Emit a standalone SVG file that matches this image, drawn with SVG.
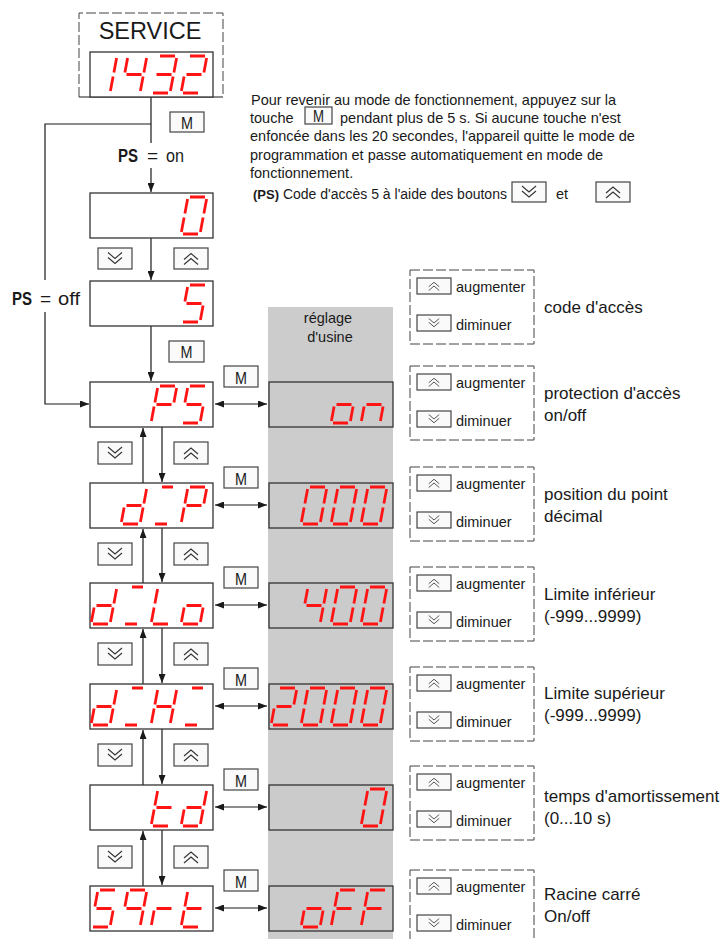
<svg xmlns="http://www.w3.org/2000/svg" xmlns:xlink="http://www.w3.org/1999/xlink" width="724" height="939" viewBox="0 0 724 939">
<style>
.t{font-family:"Liberation Sans",Arial,sans-serif;fill:#1a1a1a}
.tb{font-size:14.5px}
.lbl{font-size:17px}
.sm{font-size:14.5px}
.ps{font-family:"Liberation Sans",Arial,sans-serif;font-size:19px;fill:#1a1a1a}
.bold{font-weight:bold}
.disp{fill:#fff;stroke:#333;stroke-width:1.3}
.fdisp{fill:#cbcbcb;stroke:#333;stroke-width:1.3}
.btn{fill:#fafafa;stroke:#444;stroke-width:1.2}
.ico{fill:none;stroke:#333;stroke-width:1.1}
.seg{fill:none;stroke:#ff1414;stroke-width:2.8}
.ln{fill:none;stroke:#1a1a1a;stroke-width:1.2}
.arr{fill:none;stroke:#1a1a1a;stroke-width:1.2;marker-end:url(#ah)}
.dbl{fill:none;stroke:#1a1a1a;stroke-width:1.2;marker-end:url(#ah);marker-start:url(#ah)}
.dash{fill:none;stroke:#444;stroke-width:1;stroke-dasharray:10 3}
.m{font-family:"Liberation Sans",Arial,sans-serif;font-size:17px;fill:#1a1a1a;text-anchor:middle}
</style>
<defs>
<marker id="ah" markerUnits="userSpaceOnUse" markerWidth="9" markerHeight="7" refX="9" refY="3.5" orient="auto-start-reverse"><path d="M0 0L9 3.5L0 7z" fill="#1a1a1a"/></marker>
<path id="c0" class="seg" d="M9 0H24M25.6 2L22.9 16.5M22.1 20.5L19.4 35M2 37H17M3.1 20.5L0.4 35M6.6 2L3.9 16.5"/>
<path id="c1" class="seg" d="M25.6 2L22.9 16.5M22.1 20.5L19.4 35"/>
<path id="c2" class="seg" d="M9 0H24M25.6 2L22.9 16.5M5.5 18.5H20.5M3.1 20.5L0.4 35M2 37H17"/>
<path id="c3" class="seg" d="M9 0H24M25.6 2L22.9 16.5M5.5 18.5H20.5M22.1 20.5L19.4 35M2 37H17"/>
<path id="c4" class="seg" d="M6.6 2L3.9 16.5M5.5 18.5H20.5M25.6 2L22.9 16.5M22.1 20.5L19.4 35"/>
<path id="c5" class="seg" d="M9 0H24M6.6 2L3.9 16.5M5.5 18.5H20.5M22.1 20.5L19.4 35M2 37H17"/>
<path id="cP" class="seg" d="M9 0H24M25.6 2L22.9 16.5M3.1 20.5L0.4 35M6.6 2L3.9 16.5M5.5 18.5H20.5"/>
<path id="cd" class="seg" d="M25.6 2L22.9 16.5M22.1 20.5L19.4 35M2 37H17M3.1 20.5L0.4 35M5.5 18.5H20.5"/>
<path id="cL" class="seg" d="M2 37H17M3.1 20.5L0.4 35M6.6 2L3.9 16.5"/>
<path id="co" class="seg" d="M22.1 20.5L19.4 35M2 37H17M3.1 20.5L0.4 35M5.5 18.5H20.5"/>
<path id="cn" class="seg" d="M22.1 20.5L19.4 35M3.1 20.5L0.4 35M5.5 18.5H20.5"/>
<path id="cH" class="seg" d="M25.6 2L22.9 16.5M22.1 20.5L19.4 35M3.1 20.5L0.4 35M6.6 2L3.9 16.5M5.5 18.5H20.5"/>
<path id="cF" class="seg" d="M9 0H24M3.1 20.5L0.4 35M6.6 2L3.9 16.5M5.5 18.5H20.5"/>
<path id="cq" class="seg" d="M9 0H24M25.6 2L22.9 16.5M22.1 20.5L19.4 35M6.6 2L3.9 16.5M5.5 18.5H20.5"/>
<path id="cr" class="seg" d="M3.1 20.5L0.4 35M5.5 18.5H20.5"/>
<path id="ct" class="seg" d="M2 37H17M3.1 20.5L0.4 35M6.6 2L3.9 16.5M5.5 18.5H20.5"/>
<path id="cX" class="seg" d="M11 0H22M4 37H16"/>
<path id="idn" class="ico" d="M-7 -6L0 0L7 -6M-7 -1L0 5L7 -1"/>
<path id="iup" class="ico" d="M-7 6L0 0L7 6M-7 1L0 -5L7 1"/>
</defs>

<!-- gray factory column -->
<rect x="268" y="307" width="125" height="632" fill="#cccccc"/>
<text class="t sm" x="328" y="323" text-anchor="middle">réglage</text>
<text class="t sm" x="330" y="342" text-anchor="middle">d'usine</text>

<!-- instructions -->
<g id="note">
<text class="t tb" x="251" y="105">Pour revenir au mode de fonctionnement, appuyez sur la</text>
<text class="t tb" x="250" y="123">touche</text>
<rect class="btn" x="305" y="107" width="27" height="17" fill="#fff"/>
<text class="m" x="318.5" y="122" font-size="15" textLength="11" lengthAdjust="spacingAndGlyphs">M</text>
<text class="t tb" x="340" y="123">pendant plus de 5 s. Si aucune touche n'est</text>
<text class="t tb" x="250" y="141">enfoncée dans les 20 secondes, l'appareil quitte le mode de</text>
<text class="t tb" x="250" y="160">programmation et passe automatiquement en mode de</text>
<text class="t tb" x="250" y="178">fonctionnement.</text>
<text class="t" x="253" y="199" font-size="14"><tspan font-weight="bold" font-size="13">(PS)</tspan> Code d'accès 5 à l'aide des boutons</text>
<rect class="btn" x="512" y="182" width="34" height="20"/>
<use href="#idn" x="529" y="192"/>
<text class="t tb" x="556" y="199">et</text>
<rect class="btn" x="596" y="182" width="34" height="20"/>
<use href="#iup" x="613" y="192"/>
</g>

<!-- connectors -->
<g id="connectors">
<path class="ln" d="M151 97V143M151 124H45V280"/>
<path class="arr" d="M45 312V404H89"/>
<path class="arr" d="M151 168V192"/>
<path class="arr" d="M151 238V280"/>
<path class="arr" d="M151 326V381"/>
<path class="arr" d="M143 483V428"/>
<path class="arr" d="M162 427V482"/>
<path class="arr" d="M143 583V529"/>
<path class="arr" d="M162 528V582"/>
<path class="arr" d="M143 684V629"/>
<path class="arr" d="M162 628V683"/>
<path class="arr" d="M143 785V730"/>
<path class="arr" d="M162 729V784"/>
<path class="arr" d="M143 886V831"/>
<path class="arr" d="M162 830V885"/>
<path class="dbl" d="M215 404H267"/>
<path class="dbl" d="M215 505H267"/>
<path class="dbl" d="M215 605H267"/>
<path class="dbl" d="M215 706H267"/>
<path class="dbl" d="M215 807H267"/>
<path class="dbl" d="M215 908H267"/>
</g>

<!-- PS labels -->
<g id="ps-on">
<text class="ps bold" x="118" y="162" textLength="20" lengthAdjust="spacingAndGlyphs">PS</text>
<text class="ps" x="147" y="162">=</text>
<text class="ps" x="166" y="162" textLength="18" lengthAdjust="spacingAndGlyphs">on</text>
</g>
<g id="ps-off">
<text class="ps bold" x="12" y="305" textLength="20" lengthAdjust="spacingAndGlyphs">PS</text>
<text class="ps" x="40" y="305">=</text>
<text class="ps" x="58" y="305" textLength="22" lengthAdjust="spacingAndGlyphs">off</text>
</g>

<!-- SERVICE -->
<g id="service" aria-label="SERVICE 1432">
<path class="dash" d="M79 97V13H223V97"/>
<path class="ln" d="M79 97H223"/>
<text class="t" x="150" y="39" font-size="23.5" text-anchor="middle">SERVICE</text>
<rect class="disp" x="90" y="52" width="123" height="45"/>
<use href="#c1" x="91" y="56"/><use href="#c4" x="121" y="56"/><use href="#c3" x="151" y="56"/><use href="#c2" x="181" y="56"/>
<rect class="btn" x="170" y="112" width="34" height="20"/>
<text class="m" x="187" y="129" textLength="12" lengthAdjust="spacingAndGlyphs">M</text>
</g>

<g id="code0" aria-label="0">
<rect class="disp" x="90" y="193" width="123" height="45"/>
<use href="#c0" x="181" y="197"/>
<rect class="btn" x="98" y="248" width="34" height="21"/><use href="#idn" x="115" y="258.5"/>
<rect class="btn" x="174" y="248" width="34" height="21"/><use href="#iup" x="191" y="258.5"/>
</g>

<g id="code5" aria-label="5">
<rect class="disp" x="90" y="281" width="123" height="45"/>
<use href="#c5" x="181" y="285"/>
<rect class="btn" x="169" y="341" width="35" height="21"/>
<text class="m" x="186.5" y="358" textLength="12" lengthAdjust="spacingAndGlyphs">M</text>
</g>

<!-- rows -->
<g id="row-PS" aria-label="PS on">
<rect class="btn" x="224" y="366" width="34" height="21"/><text class="m" x="241" y="384" textLength="12" lengthAdjust="spacingAndGlyphs">M</text>
<rect class="disp" x="90" y="382" width="123" height="45"/>
<use href="#cP" x="151" y="386"/><use href="#c5" x="181" y="386"/>
<rect class="fdisp" x="269" y="382" width="124" height="45"/>
<use href="#co" x="331" y="386"/><use href="#cn" x="361" y="386"/>
<rect class="btn" x="98" y="442" width="34" height="22"/><use href="#idn" x="115" y="453"/>
<rect class="btn" x="174" y="442" width="34" height="22"/><use href="#iup" x="191" y="453"/>
</g>

<g id="row-dCP" aria-label="dCP 000">
<rect class="btn" x="224" y="467" width="34" height="21"/><text class="m" x="241" y="485" textLength="12" lengthAdjust="spacingAndGlyphs">M</text>
<rect class="disp" x="90" y="483" width="123" height="45"/>
<use href="#cd" x="121" y="487"/><use href="#cX" x="151" y="487"/><use href="#cP" x="181" y="487"/>
<rect class="fdisp" x="269" y="483" width="124" height="45"/>
<use href="#c0" x="301" y="487"/><use href="#c0" x="331" y="487"/><use href="#c0" x="361" y="487"/>
<rect class="btn" x="98" y="543" width="34" height="22"/><use href="#idn" x="115" y="554"/>
<rect class="btn" x="174" y="543" width="34" height="22"/><use href="#iup" x="191" y="554"/>
</g>

<g id="row-dCLo" aria-label="dCLo 400">
<rect class="btn" x="224" y="567" width="34" height="21"/><text class="m" x="241" y="585" textLength="12" lengthAdjust="spacingAndGlyphs">M</text>
<rect class="disp" x="90" y="583" width="123" height="45"/>
<use href="#cd" x="91" y="587"/><use href="#cX" x="121" y="587"/><use href="#cL" x="151" y="587"/><use href="#co" x="181" y="587"/>
<rect class="fdisp" x="269" y="583" width="124" height="45"/>
<use href="#c4" x="301" y="587"/><use href="#c0" x="331" y="587"/><use href="#c0" x="361" y="587"/>
<rect class="btn" x="98" y="643" width="34" height="22"/><use href="#idn" x="115" y="654"/>
<rect class="btn" x="174" y="643" width="34" height="22"/><use href="#iup" x="191" y="654"/>
</g>

<g id="row-dCHC" aria-label="dCHC 2000">
<rect class="btn" x="224" y="668" width="34" height="21"/><text class="m" x="241" y="686" textLength="12" lengthAdjust="spacingAndGlyphs">M</text>
<rect class="disp" x="90" y="684" width="123" height="45"/>
<use href="#cd" x="91" y="688"/><use href="#cX" x="121" y="688"/><use href="#cH" x="151" y="688"/><use href="#cX" x="181" y="688"/>
<rect class="fdisp" x="269" y="684" width="124" height="45"/>
<use href="#c2" x="271" y="688"/><use href="#c0" x="301" y="688"/><use href="#c0" x="331" y="688"/><use href="#c0" x="361" y="688"/>
<rect class="btn" x="98" y="744" width="34" height="22"/><use href="#idn" x="115" y="755"/>
<rect class="btn" x="174" y="744" width="34" height="22"/><use href="#iup" x="191" y="755"/>
</g>

<g id="row-td" aria-label="td 0">
<rect class="btn" x="224" y="769" width="34" height="21"/><text class="m" x="241" y="787" textLength="12" lengthAdjust="spacingAndGlyphs">M</text>
<rect class="disp" x="90" y="785" width="123" height="45"/>
<use href="#ct" x="151" y="789"/><use href="#cd" x="181" y="789"/>
<rect class="fdisp" x="269" y="785" width="124" height="45"/>
<use href="#c0" x="361" y="789"/>
<rect class="btn" x="98" y="846" width="34" height="22"/><use href="#idn" x="115" y="857"/>
<rect class="btn" x="174" y="846" width="34" height="22"/><use href="#iup" x="191" y="857"/>
</g>

<g id="row-Sqrt" aria-label="Sqrt oFF">
<rect class="btn" x="224" y="870" width="34" height="21"/><text class="m" x="241" y="888" textLength="12" lengthAdjust="spacingAndGlyphs">M</text>
<rect class="disp" x="90" y="886" width="123" height="45"/>
<use href="#c5" x="91" y="890"/><use href="#cq" x="121" y="890"/><use href="#cr" x="151" y="890"/><use href="#ct" x="181" y="890"/>
<rect class="fdisp" x="269" y="886" width="124" height="45"/>
<use href="#co" x="301" y="890"/><use href="#cF" x="331" y="890"/><use href="#cF" x="361" y="890"/>
</g>

<!-- right legends -->
<g id="leg-code">
<rect class="dash" x="410" y="270" width="124" height="74"/>
<rect class="btn" x="417" y="278" width="34" height="16"/><use href="#iup" transform="translate(434 286) scale(0.75)"/>
<text class="t sm" x="456" y="292">augmenter</text>
<rect class="btn" x="417" y="315" width="34" height="16"/><use href="#idn" transform="translate(434 323) scale(0.75)"/>
<text class="t sm" x="456" y="330">diminuer</text>
<text class="t lbl" x="544" y="313">code d'accès</text>
</g>
<g id="leg-ps">
<rect class="dash" x="410" y="366" width="124" height="74"/>
<rect class="btn" x="417" y="374" width="34" height="16"/><use href="#iup" transform="translate(434 382) scale(0.75)"/>
<text class="t sm" x="456" y="388">augmenter</text>
<rect class="btn" x="417" y="411" width="34" height="16"/><use href="#idn" transform="translate(434 419) scale(0.75)"/>
<text class="t sm" x="456" y="426">diminuer</text>
<text class="t lbl" x="544" y="399">protection d'accès</text>
<text class="t lbl" x="544" y="421">on/off</text>
</g>
<g id="leg-dcp">
<rect class="dash" x="410" y="467" width="124" height="74"/>
<rect class="btn" x="417" y="475" width="34" height="16"/><use href="#iup" transform="translate(434 483) scale(0.75)"/>
<text class="t sm" x="456" y="489">augmenter</text>
<rect class="btn" x="417" y="512" width="34" height="16"/><use href="#idn" transform="translate(434 520) scale(0.75)"/>
<text class="t sm" x="456" y="527">diminuer</text>
<text class="t lbl" x="544" y="500">position du point</text>
<text class="t lbl" x="544" y="522">décimal</text>
</g>
<g id="leg-dlo">
<rect class="dash" x="410" y="567" width="124" height="74"/>
<rect class="btn" x="417" y="575" width="34" height="16"/><use href="#iup" transform="translate(434 583) scale(0.75)"/>
<text class="t sm" x="456" y="589">augmenter</text>
<rect class="btn" x="417" y="612" width="34" height="16"/><use href="#idn" transform="translate(434 620) scale(0.75)"/>
<text class="t sm" x="456" y="627">diminuer</text>
<text class="t lbl" x="544" y="600">Limite inférieur</text>
<text class="t lbl" x="544" y="622">(-999...9999)</text>
</g>
<g id="leg-dhc">
<rect class="dash" x="410" y="667" width="124" height="74"/>
<rect class="btn" x="417" y="675" width="34" height="16"/><use href="#iup" transform="translate(434 683) scale(0.75)"/>
<text class="t sm" x="456" y="689">augmenter</text>
<rect class="btn" x="417" y="712" width="34" height="16"/><use href="#idn" transform="translate(434 720) scale(0.75)"/>
<text class="t sm" x="456" y="727">diminuer</text>
<text class="t lbl" x="544" y="699">Limite supérieur</text>
<text class="t lbl" x="544" y="721">(-999...9999)</text>
</g>
<g id="leg-td">
<rect class="dash" x="410" y="766" width="124" height="74"/>
<rect class="btn" x="417" y="774" width="34" height="16"/><use href="#iup" transform="translate(434 782) scale(0.75)"/>
<text class="t sm" x="456" y="788">augmenter</text>
<rect class="btn" x="417" y="811" width="34" height="16"/><use href="#idn" transform="translate(434 819) scale(0.75)"/>
<text class="t sm" x="456" y="826">diminuer</text>
<text class="t lbl" x="544" y="802">temps d'amortissement</text>
<text class="t lbl" x="544" y="824">(0...10 s)</text>
</g>
<g id="leg-sqrt">
<rect class="dash" x="410" y="870" width="124" height="74"/>
<rect class="btn" x="417" y="878" width="34" height="16"/><use href="#iup" transform="translate(434 886) scale(0.75)"/>
<text class="t sm" x="456" y="892">augmenter</text>
<rect class="btn" x="417" y="915" width="34" height="16"/><use href="#idn" transform="translate(434 923) scale(0.75)"/>
<text class="t sm" x="456" y="930">diminuer</text>
<text class="t lbl" x="544" y="900">Racine carré</text>
<text class="t lbl" x="544" y="922">On/off</text>
</g>
</svg>
